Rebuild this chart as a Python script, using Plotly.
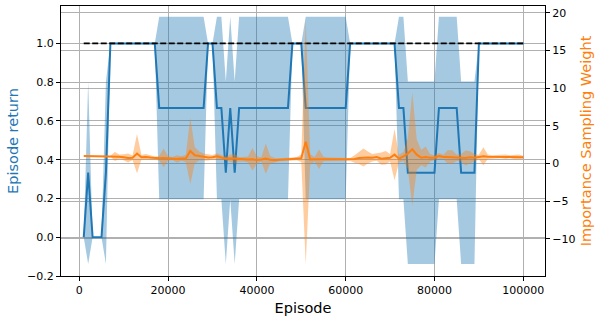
import plotly.graph_objects as go

# ---- data ----
episodes = list(range(1000, 100001, 1000))

return_mean = (
    [0.0, 0.333, 0.0, 0.0, 0.0, 0.333]
    + [1.0] * 11
    + [0.667] * 11
    + [1.0, 1.0, 0.667, 0.667, 0.333, 0.667, 0.333]
    + [0.667] * 12
    + [1.0] * 3
    + [0.667] * 10
    + [1.0] * 11
    + [0.667] * 2
    + [0.333] * 7
    + [0.667] * 5
    + [0.333] * 4
    + [1.0] * 11
)
return_std = (
    [0.0, 0.471, 0.0, 0.0, 0.0, 0.471]
    + [0.0] * 11
    + [0.471] * 11
    + [0.0, 0.0, 0.471, 0.471, 0.471, 0.471, 0.471]
    + [0.471] * 12
    + [0.0] * 3
    + [0.471] * 10
    + [0.0] * 11
    + [0.471] * 2
    + [0.471] * 7
    + [0.471] * 5
    + [0.471] * 4
    + [0.0] * 11
)
optimal_return = [1.0] * 100

isw_mean = [
    1.0, 1.0, 1.0, 1.0, 1.0, 1.0, 1.0, 0.95, 0.9, 0.85,
    0.75, 0.78, 1.33, 0.85, 0.88, 0.8, 0.72, 0.7, 0.75, 0.68,
    0.68, 0.6, 0.68, 0.68, 1.68, 1.1, 1.0, 0.85, 0.8, 0.85,
    0.97, 0.8, 0.66, 0.7, 0.65, 0.55, 0.58, 0.55, 0.58, 0.47,
    0.55, 0.66, 0.5, 0.45, 0.5, 0.58, 0.58, 0.62, 0.66, 0.72,
    2.9, 0.55, 0.58, 0.58, 0.6, 0.6, 0.58, 0.6, 0.55, 0.55,
    0.55, 0.6, 0.75, 0.8, 0.8, 0.78, 0.88, 0.66, 0.77, 0.78,
    1.19, 0.66, 0.95, 1.33, 1.9, 1.19, 0.79, 0.88, 0.79, 0.79,
    1.01, 0.88, 0.88, 0.88, 0.79, 0.79, 0.75, 0.84, 0.79, 0.88,
    0.97, 0.92, 0.92, 0.92, 0.92, 0.92, 0.9, 0.88, 0.92, 0.84,
]
isw_std = [
    0.0, 0.0, 0.0, 0.0, 0.0, 0.0, 0.05, 0.6, 0.3, 0.4,
    0.6, 0.3, 2.6, 0.3, 0.4, 0.3, 0.2, 0.3, 1.25, 0.3,
    0.2, 0.5, 0.3, 0.5, 4.4, 1.1, 0.6, 0.5, 0.4, 0.3,
    0.4, 0.3, 0.2, 0.5, 0.6, 0.3, 0.3, 0.4, 1.5, 0.5,
    0.3, 2.0, 0.5, 0.3, 0.2, 0.2, 0.2, 0.2, 0.2, 0.5,
    16.3, 0.7, 0.3, 1.3, 0.3, 0.2, 0.2, 0.2, 0.2, 0.2,
    0.2, 0.5, 0.8, 1.2, 0.8, 0.5, 0.5, 0.8, 0.9, 0.5,
    3.4, 0.5, 0.6, 2.0, 7.5, 2.0, 1.0, 1.4, 0.5, 0.3,
    0.4, 0.3, 0.9, 0.9, 0.4, 0.5, 1.0, 0.8, 0.5, 0.3,
    1.2, 0.3, 0.2, 0.2, 0.2, 0.3, 0.2, 0.3, 0.3, 0.2,
]

x_ticks = [0, 20000, 40000, 60000, 80000, 100000]
y1_ticks = [-0.2, 0.0, 0.2, 0.4, 0.6, 0.8, 1.0]
y2_ticks = [-10, -5, 0, 5, 10, 15, 20]

BLUE = "#1f77b4"
ORANGE = "#ff7f0e"
FONT = "DejaVu Sans"

ret_up = [m + s for m, s in zip(return_mean, return_std)]
ret_lo = [m - s for m, s in zip(return_mean, return_std)]
isw_up = [m + s for m, s in zip(isw_mean, isw_std)]
isw_lo = [m - s for m, s in zip(isw_mean, isw_std)]

fig = go.Figure()

fig.add_trace(go.Scatter(
    x=episodes + episodes[::-1], y=ret_up + ret_lo[::-1],
    fill="toself", fillcolor="rgba(31,119,180,0.4)",
    line=dict(width=0), mode="lines", hoverinfo="skip", yaxis="y"))
fig.add_trace(go.Scatter(
    x=episodes, y=return_mean, mode="lines",
    line=dict(color=BLUE, width=2), yaxis="y"))
fig.add_trace(go.Scatter(
    x=episodes, y=optimal_return, mode="lines",
    line=dict(color="black", width=1.8, dash="6px,2.5px"), yaxis="y"))

fig.add_trace(go.Scatter(
    x=episodes + episodes[::-1], y=isw_up + isw_lo[::-1],
    fill="toself", fillcolor="rgba(255,127,14,0.4)",
    line=dict(width=0), mode="lines", hoverinfo="skip", yaxis="y2"))
fig.add_trace(go.Scatter(
    x=episodes, y=isw_mean, mode="lines",
    line=dict(color=ORANGE, width=2), yaxis="y2"))

axis_common = dict(
    showline=True, linecolor="black", linewidth=1,
    ticks="outside", ticklen=4, tickwidth=1, tickcolor="black",
    showgrid=True, gridcolor="#b0b0b0", gridwidth=1,
    zeroline=False, automargin=False,
    tickfont=dict(family=FONT, size=11, color="black"),
)

fig.update_layout(
    width=596, height=316,
    margin=dict(l=61, r=51, t=6, b=40),
    paper_bgcolor="white", plot_bgcolor="white",
    showlegend=False,
    font=dict(family=FONT, color="black"),
    xaxis=dict(
        **axis_common, mirror=True,
        range=[-4120, 104890],
        tickmode="array", tickvals=x_ticks,
        ticktext=[str(v) for v in x_ticks],
        title=dict(text="Episode", font=dict(family=FONT, size=14.5, color="black"),
                   standoff=10),
    ),
    yaxis=dict(
        **axis_common,
        range=[-0.2, 1.193],
        tickmode="array", tickvals=y1_ticks, tickformat=".1f",
        title=dict(text="Episode return", font=dict(family=FONT, size=14.5, color=BLUE),
                   standoff=5),
    ),
    yaxis2=dict(
        **axis_common,
        overlaying="y", side="right",
        range=[-14.92, 20.92],
        tickmode="array", tickvals=y2_ticks,
        title=dict(text="Importance Sampling Weight",
                   font=dict(family=FONT, size=14.5, color=ORANGE), standoff=6),
    ),
)

fig.write_html(
    "out.html",
    config={"displayModeBar": False},
    post_script="document.body.style.margin='0px';",
)
